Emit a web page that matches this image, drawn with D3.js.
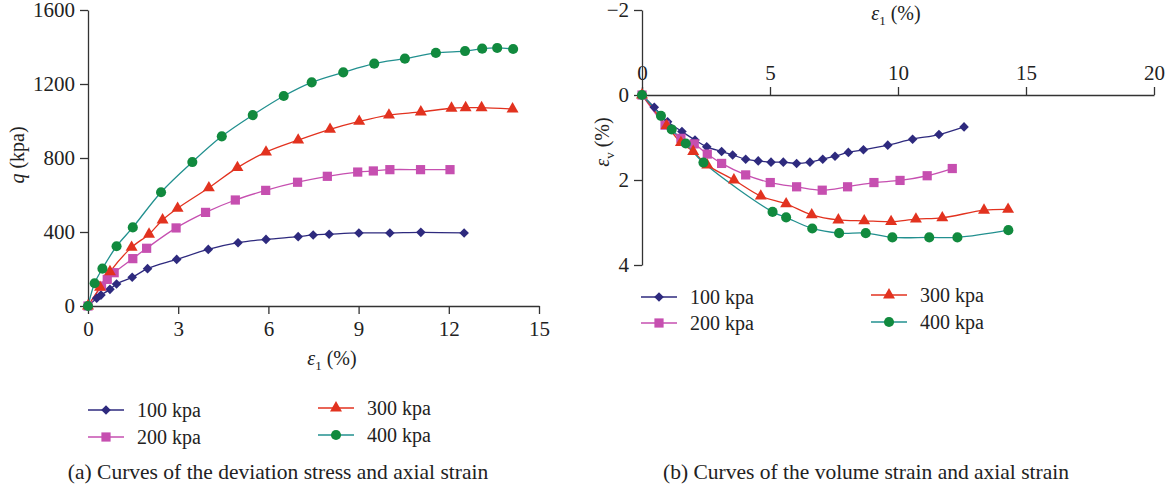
<!DOCTYPE html>
<html lang="en">
<head>
<meta charset="utf-8">
<style type="text/css">
    body { margin: 0; background: #fff; }
    svg text { font-family: "Liberation Serif", "DejaVu Serif", serif; fill: #222; }
    .axis path, .axis line { stroke: #333; stroke-width: 1.3px; }
    .axis text { font-size: 21px; fill: #222; }
    .curve { fill: none; stroke-width: 1.3px; }
</style>
</head>
<body>
<svg width="1172" height="491"></svg>
<script src="https://d3js.org/d3.v7.min.js"></script>
<script type="text/javascript">

    // legend names
    var pressures = ["100 kpa", "200 kpa", "300 kpa", "400 kpa"];

    // (a) deviation stress q (kpa) against axial strain e1 (%)
    var q100x = [0, 0.29, 0.43, 0.73, 0.95, 1.47, 1.98, 2.95, 4.0, 4.99, 5.92, 6.99, 7.49, 8.02, 9.01, 10.04, 11.07, 12.51];
    var q100y = [0, 42, 59, 90, 119, 155, 202, 252, 306, 342, 360, 375, 384, 388, 395, 395, 398, 395];
    var q200x = [0, 0.45, 0.64, 0.87, 1.49, 1.95, 2.93, 3.91, 4.90, 5.91, 6.97, 7.96, 8.97, 9.49, 10.04, 11.06, 12.04];
    var q200y = [0, 108, 144, 180, 256, 312, 422, 506, 573, 625, 669, 701, 724, 730, 737, 737, 737];
    var q300x = [0, 0.40, 0.73, 1.45, 2.03, 2.48, 2.98, 4.02, 4.97, 5.92, 6.99, 8.05, 9.02, 10.01, 11.07, 12.09, 12.56, 13.09, 14.12];
    var q300y = [0, 101, 185, 317, 388, 465, 528, 639, 748, 832, 897, 955, 998, 1032, 1049, 1069, 1072, 1072, 1065];
    var q400x = [0, 0.22, 0.48, 0.95, 1.49, 2.43, 3.47, 4.45, 5.48, 6.51, 7.44, 8.49, 9.52, 10.54, 11.57, 12.54, 13.11, 13.61, 14.14];
    var q400y = [0, 123, 202, 323, 425, 615, 778, 917, 1032, 1135, 1209, 1263, 1310, 1337, 1368, 1378, 1391, 1395, 1389];

    // (b) volume strain ev (%) against axial strain e1 (%)
    var v100x = [0, 0.48, 1.0, 1.56, 2.07, 2.53, 3.11, 3.54, 4.05, 4.54, 5.04, 5.52, 6.04, 6.56, 7.06, 7.54, 8.06, 8.65, 9.6, 10.57, 11.6, 12.58];
    var v100y = [0, 0.29, 0.63, 0.86, 1.06, 1.22, 1.33, 1.41, 1.51, 1.55, 1.58, 1.58, 1.61, 1.58, 1.51, 1.44, 1.35, 1.29, 1.18, 1.04, 0.93, 0.75];
    var v200x = [0, 0.9, 1.52, 2.04, 2.55, 3.11, 4.05, 5.01, 6.04, 7.04, 8.03, 9.06, 10.08, 11.14, 12.12];
    var v200y = [0, 0.71, 1.02, 1.15, 1.39, 1.61, 1.88, 2.06, 2.16, 2.24, 2.16, 2.06, 2.01, 1.90, 1.73];
    var v300x = [0, 0.96, 1.52, 2.0, 2.55, 3.59, 4.64, 5.63, 6.63, 7.67, 8.68, 9.73, 10.7, 11.73, 13.36, 14.3];
    var v300y = [0, 0.72, 1.12, 1.33, 1.65, 2.0, 2.38, 2.56, 2.82, 2.94, 2.96, 2.98, 2.92, 2.89, 2.71, 2.69];
    var v400x = [0, 0.74, 1.16, 1.71, 2.4, 5.1, 5.63, 6.65, 7.7, 8.74, 9.78, 11.22, 12.32, 14.31];
    var v400y = [0, 0.49, 0.81, 1.14, 1.59, 2.75, 2.88, 3.14, 3.25, 3.25, 3.35, 3.35, 3.35, 3.18];

    // tick values
    var qTicks = [0, 400, 800, 1200, 1600];
    var e1TicksA = [0, 3, 6, 9, 12, 15];
    var e1TicksB = [0, 5, 10, 15, 20];
    var evTicks = [-2, 0, 2, 4];

    var lineColors = ["#2e2a7e", "#c64fb0", "#e2321f", "#22908f"];
    var markColors = ["#2e2a7e", "#c64fb0", "#e2321f", "#118a3e"];
    var shapes = ["diamond", "square", "triangle", "circle"];
    var serif = '"Liberation Serif", "DejaVu Serif", serif';

    var svg = d3.select("svg");

    function zip(xs, ys) { return xs.map(function (x, i) { return [x, ys[i]]; }); }

    var seriesA = [zip(q100x, q100y), zip(q200x, q200y), zip(q300x, q300y), zip(q400x, q400y)];
    var seriesB = [zip(v100x, v100y), zip(v200x, v200y), zip(v300x, v300y), zip(v400x, v400y)];

    function symbolPath(shape) {
        if (shape == "diamond") return d3.symbol().type(d3.symbolSquare).size(46)();
        if (shape == "square") return d3.symbol().type(d3.symbolSquare).size(85)();
        if (shape == "triangle") return d3.symbol().type(d3.symbolTriangle).size(62)();
        return d3.symbol().type(d3.symbolCircle).size(80)();
    }
    function symbolRot(shape) { return shape == "diamond" ? " rotate(45)" : ""; }

    function drawSeries(g, data, x, y) {
        var line = d3.line()
            .x(function (d) { return x(d[0]); })
            .y(function (d) { return y(d[1]); })
            .curve(d3.curveCatmullRom.alpha(0.5));
        data.forEach(function (pts, i) {
            g.append("path").attr("class", "curve")
                .attr("d", line(pts))
                .attr("stroke", lineColors[i]);
        });
        data.forEach(function (pts, i) {
            g.selectAll(".m" + i).data(pts).enter()
                .append("path")
                .attr("class", "m" + i)
                .attr("d", symbolPath(shapes[i]))
                .attr("fill", markColors[i])
                .attr("transform", function (d) { return "translate(" + x(d[0]) + "," + y(d[1]) + ")" + symbolRot(shapes[i]); });
        });
    }

    function drawLegend(g, pos) {
        pressures.forEach(function (name, i) {
            var p = pos[i];
            var row = g.append("g").attr("transform", "translate(" + p[0] + "," + p[1] + ")");
            row.append("line").attr("x1", 0).attr("x2", 36).attr("y1", 0).attr("y2", 0)
                .attr("stroke", lineColors[i]).attr("stroke-width", 1.5);
            row.append("path").attr("d", symbolPath(shapes[i]))
                .attr("fill", markColors[i])
                .attr("transform", "translate(18,0)" + symbolRot(shapes[i]));
            row.append("text").attr("x", 49).attr("y", 7)
                .attr("font-family", serif)
                .style("font-size", "20px").text(name);
        });
    }

    function styleAxis(g) {
        g.attr("font-family", serif);
        g.selectAll("text").attr("font-family", serif);
    }

    // ---------- (a) ----------
    var xA = d3.scaleLinear().domain([0, 15]).range([88, 539]);
    var yA = d3.scaleLinear().domain([0, 1600]).range([306, 10]);

    svg.append("g").attr("class", "axis")
        .attr("transform", "translate(0," + yA(0) + ")")
        .call(d3.axisBottom(xA).tickValues(e1TicksA).tickSizeInner(8).tickSizeOuter(0).tickPadding(7))
        .call(styleAxis);
    svg.append("g").attr("class", "axis")
        .attr("transform", "translate(" + xA(0) + ",0)")
        .call(d3.axisLeft(yA).tickValues(qTicks).tickSizeInner(8).tickSizeOuter(0).tickPadding(5)
            .tickFormat(d3.format("d")))
        .call(styleAxis);

    var gA = svg.append("g");
    drawSeries(gA, seriesA, xA, yA);

    svg.append("text")
        .attr("transform", "translate(24,155) rotate(-90)")
        .attr("text-anchor", "middle").attr("font-family", serif).style("font-size", "20px")
        .html('<tspan font-style="italic">q</tspan> (kpa)');
    svg.append("text")
        .attr("x", 332).attr("y", 365)
        .attr("text-anchor", "middle").attr("font-family", serif).style("font-size", "20px")
        .html('<tspan font-style="italic">ε</tspan><tspan dy="5" font-size="13px">1</tspan><tspan dy="-5"> (%)</tspan>');

    drawLegend(svg.append("g"), [[88, 410], [88, 437], [318, 408], [318, 435]]);

    svg.append("text").attr("x", 278).attr("y", 479)
        .attr("text-anchor", "middle").attr("font-family", serif).style("font-size", "21.5px")
        .text("(a) Curves of the deviation stress and axial strain");

    // ---------- (b) ----------
    var xB = d3.scaleLinear().domain([0, 20]).range([642, 1154]);
    var yB = d3.scaleLinear().domain([-2, 4]).range([10, 265]);

    svg.append("g").attr("class", "axis")
        .attr("transform", "translate(0," + yB(0) + ")")
        .call(d3.axisTop(xB).tickValues(e1TicksB).tickSizeInner(8).tickSizeOuter(0).tickPadding(7))
        .call(styleAxis);
    svg.append("g").attr("class", "axis")
        .attr("transform", "translate(" + xB(0) + ",0)")
        .call(d3.axisLeft(yB).tickValues(evTicks).tickSizeInner(8).tickSizeOuter(0).tickPadding(5)
            .tickFormat(function (d) { return d < 0 ? "\u2212" + (-d) : d; }))
        .call(styleAxis);

    var gB = svg.append("g");
    drawSeries(gB, seriesB, xB, yB);

    svg.append("text")
        .attr("transform", "translate(609,142) rotate(-90)")
        .attr("text-anchor", "middle").attr("font-family", serif).style("font-size", "20px")
        .html('<tspan font-style="italic">ε</tspan><tspan dy="5" font-size="13px">v</tspan><tspan dy="-5"> (%)</tspan>');
    svg.append("text")
        .attr("x", 896).attr("y", 20)
        .attr("text-anchor", "middle").attr("font-family", serif).style("font-size", "20px")
        .html('<tspan font-style="italic">ε</tspan><tspan dy="5" font-size="13px">1</tspan><tspan dy="-5"> (%)</tspan>');

    drawLegend(svg.append("g"), [[641, 297], [641, 323], [871, 295], [871, 322]]);

    svg.append("text").attr("x", 866).attr("y", 479)
        .attr("text-anchor", "middle").attr("font-family", serif).style("font-size", "21.5px")
        .text("(b) Curves of the volume strain and axial strain");

</script>
</body>
</html>
